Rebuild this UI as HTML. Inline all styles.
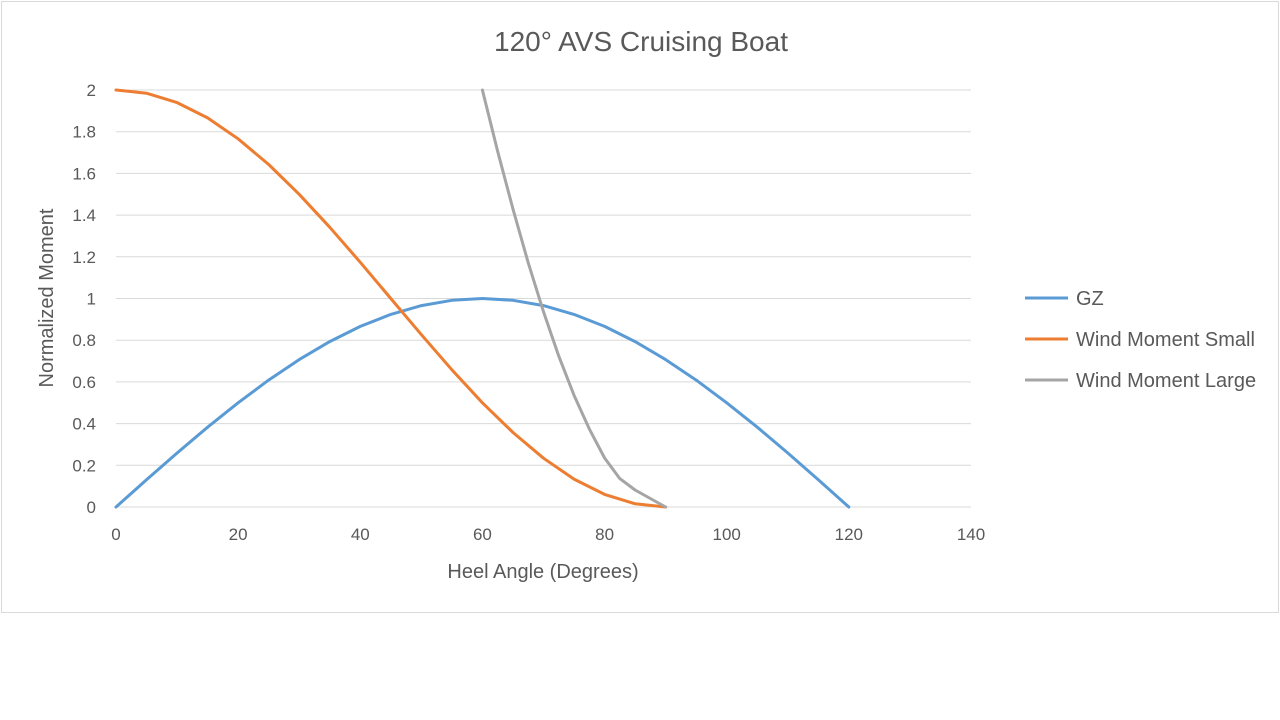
<!DOCTYPE html>
<html><head><meta charset="utf-8"><style>
body{margin:0;background:#fff;}
svg{display:block;font-family:"Liberation Sans",sans-serif;}
</style></head><body>
<svg width="1280" height="720" viewBox="0 0 1280 720">
<rect x="0" y="0" width="1280" height="720" fill="#fff"/>
<rect x="1.5" y="1.5" width="1277" height="611" fill="#fff" stroke="#d9d9d9" stroke-width="1"/>
<text x="641" y="51" text-anchor="middle" font-size="28" fill="#595959">120° AVS Cruising Boat</text>
<g stroke="#d9d9d9" stroke-width="1">
<line x1="116" y1="90" x2="971" y2="90"/>
<line x1="116" y1="131.7" x2="971" y2="131.7"/>
<line x1="116" y1="173.4" x2="971" y2="173.4"/>
<line x1="116" y1="215.1" x2="971" y2="215.1"/>
<line x1="116" y1="256.8" x2="971" y2="256.8"/>
<line x1="116" y1="298.5" x2="971" y2="298.5"/>
<line x1="116" y1="340.2" x2="971" y2="340.2"/>
<line x1="116" y1="381.9" x2="971" y2="381.9"/>
<line x1="116" y1="423.6" x2="971" y2="423.6"/>
<line x1="116" y1="465.3" x2="971" y2="465.3"/>
<line x1="116" y1="507" x2="971" y2="507"/>
</g>
<g font-size="17" fill="#595959" text-anchor="end">
<text x="96" y="96">2</text><text x="96" y="137.7">1.8</text><text x="96" y="179.4">1.6</text>
<text x="96" y="221.1">1.4</text><text x="96" y="262.8">1.2</text><text x="96" y="304.5">1</text>
<text x="96" y="346.2">0.8</text><text x="96" y="387.9">0.6</text><text x="96" y="429.6">0.4</text>
<text x="96" y="471.3">0.2</text><text x="96" y="513">0</text>
</g>
<g font-size="17" fill="#595959" text-anchor="middle">
<text x="116" y="540">0</text><text x="238.1" y="540">20</text><text x="360.3" y="540">40</text>
<text x="482.4" y="540">60</text><text x="604.6" y="540">80</text><text x="726.7" y="540">100</text>
<text x="848.8" y="540">120</text><text x="971" y="540">140</text>
</g>
<text x="543" y="578" text-anchor="middle" font-size="20" fill="#595959">Heel Angle (Degrees)</text>
<text transform="translate(53,298) rotate(-90)" text-anchor="middle" font-size="20" fill="#595959">Normalized Moment</text>
<g fill="none" stroke-width="3" stroke-linejoin="round" stroke-linecap="round">
<polyline stroke="#5b9bd5" points="116,507 146.5,479.8 177.1,453 207.6,427.2 238.1,402.8 268.6,380.1 299.2,359.6 329.7,341.6 360.3,326.4 390.8,314.4 421.4,305.6 451.9,300.3 482.4,298.5 513,300.3 543.5,305.6 574,314.4 604.6,326.4 635.1,341.6 665.6,359.6 696.2,380.1 726.7,402.8 757.3,427.2 787.8,453 818.3,479.8 848.8,507"/>
<polyline stroke="#ed7d31" points="116,90 146.5,93.2 177.1,102.6 207.6,117.9 238.1,138.8 268.7,164.5 299.2,194.3 329.7,227.2 360.3,262.3 390.8,298.5 421.4,334.7 451.9,369.8 482.4,402.8 513,432.5 543.5,458.2 574,479.1 604.6,494.4 635.1,503.8 665.6,507"/>
<polyline stroke="#a5a5a5" points="482.4,90 497.7,151.5 513,209.1 528.2,262.7 543.5,311.8 558.8,356.2 574,395.2 589.3,428.9 604.6,458 619.8,478.6 635.1,490 665.6,507"/>
</g>
<g stroke-width="3">
<line x1="1025" y1="298" x2="1068" y2="298" stroke="#5b9bd5"/>
<line x1="1025" y1="339" x2="1068" y2="339" stroke="#ed7d31"/>
<line x1="1025" y1="380" x2="1068" y2="380" stroke="#a5a5a5"/>
</g>
<g font-size="20" fill="#595959">
<text x="1076" y="305">GZ</text>
<text x="1076" y="346">Wind Moment Small</text>
<text x="1076" y="387">Wind Moment Large</text>
</g>
</svg>
</body></html>
